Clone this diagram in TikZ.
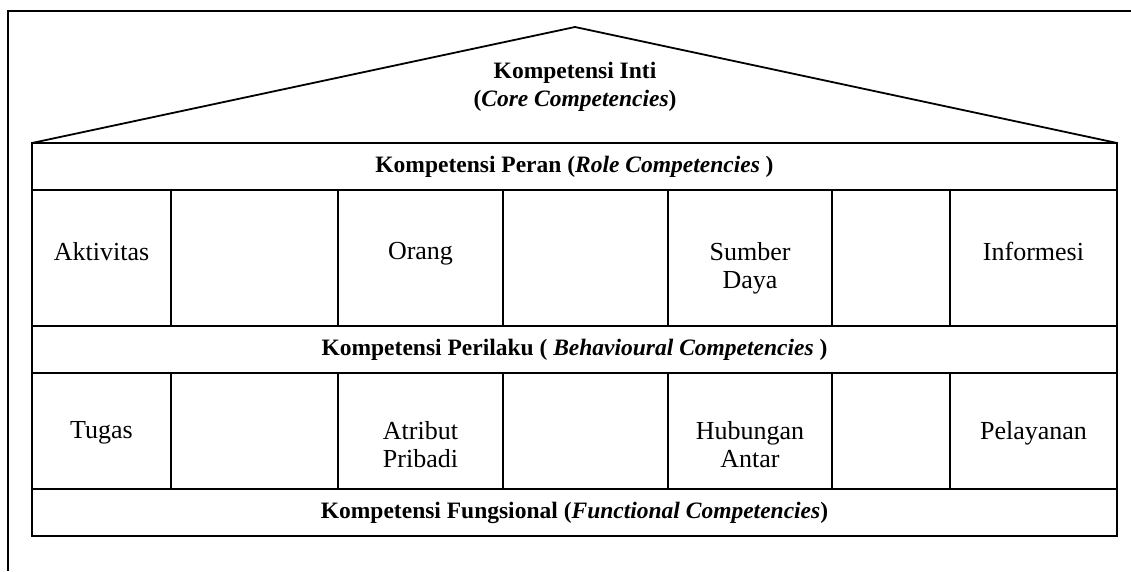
\documentclass[tikz,border=0pt]{standalone}
\usepackage{fontspec}
\setmainfont{Liberation Serif}
\usetikzlibrary{positioning}
\begin{document}
\begin{tikzpicture}[x=1pt, y=-1pt]

    % Define styles
    \tikzset{
        edge/.style = {line width=1.8pt},
        band/.style = {rectangle, anchor=north west, minimum width=1085pt, minimum height=47pt, inner sep=0pt, outer sep=0pt, draw=black, fill=white, line width=1.8pt, text centered, font=\fontsize{23.5}{28}\selectfont\bfseries},
        cell/.style = {rectangle, anchor=north west, minimum height=136pt, inner sep=0pt, outer sep=0pt, draw=black, line width=1.8pt},
        lowcell/.style = {cell, minimum height=116pt},
        celltext/.style = {anchor=north, inner sep=0pt, align=center, font=\fontsize{26}{28}\selectfont}
    }
    \useasboundingbox (0,0) rectangle (1131,571);

    % Frame and roof
    \coordinate (frameTL) at (8,11);
    \coordinate (frameTR) at (1131,11);
    \coordinate (frameBL) at (8,571);
    \draw [edge] (frameTR) -- (frameTL) -- (frameBL);
    \node (role) [band] at (32,143) {Kompetensi Peran (\textit{Role Competencies} )};
    \coordinate (ridge) at (575,27);
    \draw [edge] (role.north west) -- (ridge) -- (role.north east);
    \node (core) [align=center, font=\fontsize{23.5}{28}\selectfont\bfseries] at (575,87) {Kompetensi Inti\\(\textit{Core Competencies})};

    % Upper row
    \node (a1) [cell, minimum width=139pt] at (role.south west) {};
    \node (a2) [cell, minimum width=167pt, right=0pt of a1] {};
    \node (a3) [cell, minimum width=165pt, right=0pt of a2] {};
    \node (a4) [cell, minimum width=165pt, right=0pt of a3] {};
    \node (a5) [cell, minimum width=164pt, right=0pt of a4] {};
    \node (a6) [cell, minimum width=118pt, right=0pt of a5] {};
    \node (a7) [cell, minimum width=167pt, right=0pt of a6] {};
    \node (aktivitas) [celltext, below=52pt of a1.north] {Aktivitas};
    \node (orang) [celltext, below=52pt of a3.north] {Orang};
    \node (sumber) [celltext, below=52pt of a5.north] {Sumber\\Daya};
    \node (informasi) [celltext, below=52pt of a7.north] {Informesi};

    \node (behav) [band] at (a1.south west) {Kompetensi Perilaku ( \textit{Behavioural Competencies} )};

    % Lower row
    \node (b1) [lowcell, minimum width=139pt] at (behav.south west) {};
    \node (b2) [lowcell, minimum width=167pt, right=0pt of b1] {};
    \node (b3) [lowcell, minimum width=165pt, right=0pt of b2] {};
    \node (b4) [lowcell, minimum width=165pt, right=0pt of b3] {};
    \node (b5) [lowcell, minimum width=164pt, right=0pt of b4] {};
    \node (b6) [lowcell, minimum width=118pt, right=0pt of b5] {};
    \node (b7) [lowcell, minimum width=167pt, right=0pt of b6] {};
    \node (tugas) [celltext, below=48pt of b1.north] {Tugas};
    \node (atribut) [celltext, below=48pt of b3.north] {Atribut\\Pribadi};
    \node (hubungan) [celltext, below=48pt of b5.north] {Hubungan\\Antar};
    \node (pelayanan) [celltext, below=48pt of b7.north] {Pelayanan};

    \node (func) [band] at (b1.south west) {Kompetensi Fungsional (\textit{Functional Competencies})};
\end{tikzpicture}
\end{document}
